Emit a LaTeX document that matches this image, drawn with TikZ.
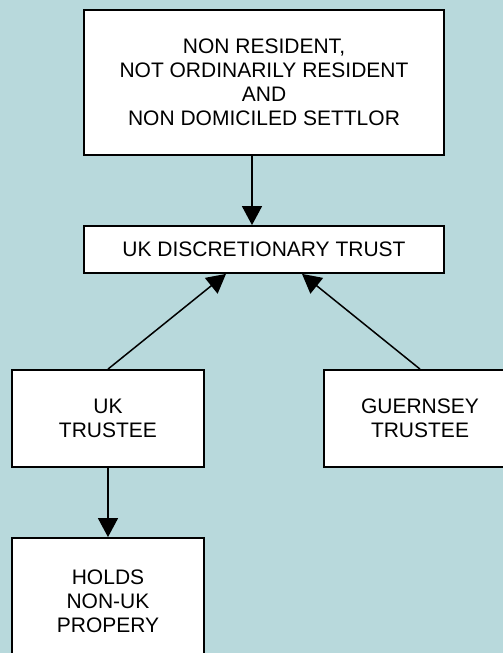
\documentclass[tikz,border=0pt]{standalone}
\usepackage{fontspec}
\setmainfont{Liberation Sans}
\usepackage{xcolor}
\usetikzlibrary{arrows.meta}
\definecolor{bgteal}{RGB}{184,217,220}

\begin{document}
\begin{tikzpicture}[x=1pt, y=1pt,
    box/.style={draw, line width=1.8pt, fill=white, align=center, inner sep=0pt,
        font=\fontsize{21}{24}\selectfont},
    arrowline/.style={line width=1.5pt, -{Triangle[width=20pt,length=19pt]}}]
    \fill [bgteal] (0,0) rectangle (503,653);
    \useasboundingbox (0,0) rectangle (503,653);
    \clip (0,0) rectangle (503,653);

    % Boxes
    \node [box, minimum width=360pt, minimum height=145pt] (settlor) at (264,570.5)
        {NON RESIDENT,\\NOT ORDINARILY RESIDENT\\AND\\NON DOMICILED SETTLOR};
    \node [box, minimum width=360pt, minimum height=47pt] (trust) at (264,403.5)
        {UK DISCRETIONARY TRUST};
    \node [box, minimum width=192pt, minimum height=97pt] (uktrustee) at (108,234.5)
        {UK\\TRUSTEE};
    \node [box, minimum width=192pt, minimum height=97pt] (guernsey) at (420,234.5)
        {GUERNSEY\\TRUSTEE};
    \node [box, minimum width=192pt, minimum height=126pt] (holds) at (108,52)
        {HOLDS\\NON-UK\\PROPERY};

    % Arrows
    \draw [arrowline] ([xshift=-12pt]settlor.south) -- ([xshift=-12pt]trust.north);
    \draw [arrowline] (uktrustee.north) -- ([xshift=-38pt]trust.south);
    \draw [arrowline] (guernsey.north) -- ([xshift=38pt]trust.south);
    \draw [arrowline] (uktrustee.south) -- (holds.north);
\end{tikzpicture}
\end{document}
